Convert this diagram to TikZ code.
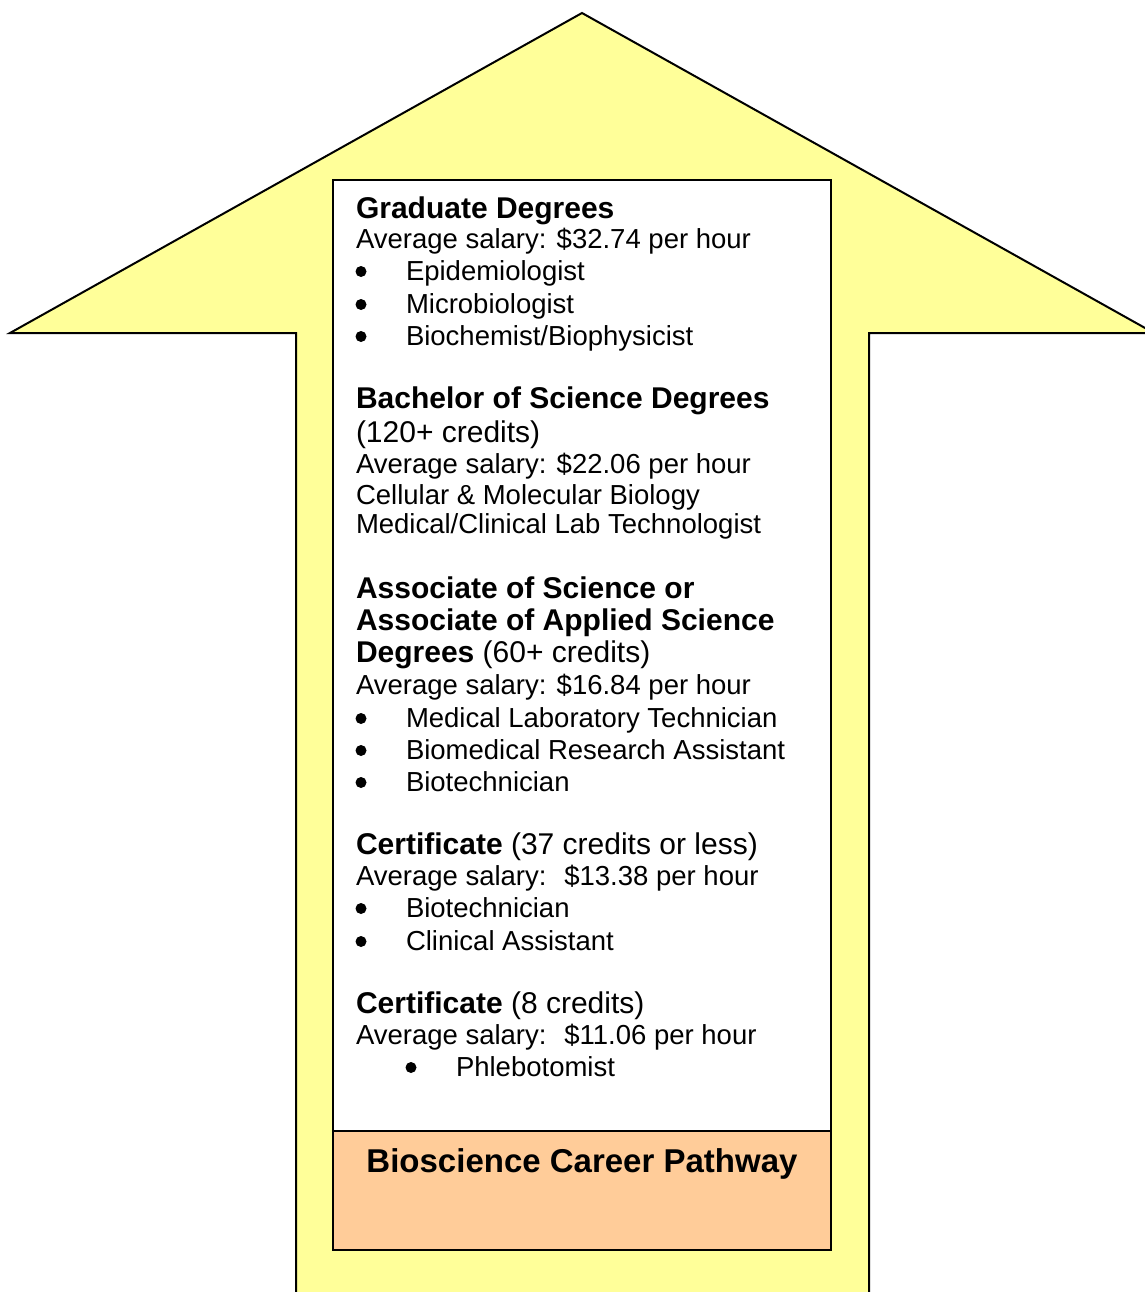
\documentclass[tikz,border=0pt]{standalone}
\usepackage{fontspec}
\setmainfont{Liberation Sans}
\usepackage{tikz}

\definecolor{arrowyellow}{HTML}{FFFF99}
\definecolor{pathorange}{HTML}{FFCC99}

\begin{document}
\begin{tikzpicture}[x=0.4pt,y=-0.4pt,line width=0.8pt,
  head/.style={font=\fontsize{12}{13.8}\selectfont\bfseries,anchor=base west,inner sep=0pt},
  sub/.style={font=\fontsize{12}{13.8}\selectfont,anchor=base west,inner sep=0pt},
  body/.style={font=\fontsize{11}{12.65}\selectfont,anchor=base west,inner sep=0pt},
  bulletmark/.style={circle,fill=black,draw=none,inner sep=0pt,minimum size=4.4pt,yshift=3.4pt}]

%Text columns
\def\tx{355}     %left edge of the text.
\def\bx{361}     %bullet centres.
\def\ix{405}     %indented item column.

% Define coordinates of the big arrow
\coordinate (tip)    at (582,13);
\coordinate (lwing)  at (10,333);
\coordinate (lshaft) at (296,333);
\coordinate (lfoot)  at (296,1310);
\coordinate (rfoot)  at (869,1310);
\coordinate (rshaft) at (869,333);
\coordinate (rwing)  at (1154,333);

\useasboundingbox (0,0) rectangle (1145,1292);

% ARROW
\begin{scope}
\clip (0,0) rectangle (1145,1292);
\draw[fill=arrowyellow] (tip) -- (rwing) -- (rshaft) -- (rfoot) -- (lfoot) -- (lshaft) -- (lwing) -- cycle;
\end{scope}

% Boxes inside the shaft
\draw[fill=white] (333,180) rectangle (831,1131);
\draw[fill=pathorange] (333,1131) rectangle (831,1250);
\node (title) [anchor=base,inner sep=0pt,font=\fontsize{13.2}{15}\selectfont\bfseries] at (582,1172) {Bioscience Career Pathway};

%Graduate degrees
\node (grad) [head] at (\tx,218) {Graduate Degrees};
\node (gradpay) [body] at (\tx,248) {Average salary: \$32.74 per hour};
\node (gradb1) [bulletmark] at (\bx,280) {};
\node (gradj1) [body] at (\ix,280) {Epidemiologist};
\node (gradb2) [bulletmark] at (\bx,313) {};
\node (gradj2) [body] at (\ix,313) {Microbiologist};
\node (gradb3) [bulletmark] at (\bx,345) {};
\node (gradj3) [body] at (\ix,345) {Biochemist/Biophysicist};

%Bachelor degrees
\node (bach) [head] at (\tx,408) {Bachelor of Science Degrees};
\node (bachcred) [sub] at (\tx,442) {(120+ credits)};
\node (bachpay) [body] at (\tx,473) {Average salary: \$22.06 per hour};
\node (bachj1) [body] at (\tx,504) {Cellular \& Molecular Biology};
\node (bachj2) [body] at (\tx,533) {Medical/Clinical Lab Technologist};

%Associate degrees
\node (assoc1) [head] at (\tx,598) {Associate of Science or};
\node (assoc2) [head] at (\tx,630) {Associate of Applied Science};
\node (assoc3) [sub] at (\tx,662) {\textbf{Degrees} (60+ credits)};
\node (assocpay) [body] at (\tx,694) {Average salary: \$16.84 per hour};
\node (assocb1) [bulletmark] at (\bx,727) {};
\node (assocj1) [body] at (\ix,727) {Medical Laboratory Technician};
\node (assocb2) [bulletmark] at (\bx,759) {};
\node (assocj2) [body] at (\ix,759) {Biomedical Research Assistant};
\node (assocb3) [bulletmark] at (\bx,791) {};
\node (assocj3) [body] at (\ix,791) {Biotechnician};

%Certificate, 37 credits
\node (cert) [sub] at (\tx,854) {\textbf{Certificate} (37 credits or less)};
\node (certpay) [body] at (\tx,885) {Average salary:~ \$13.38 per hour};
\node (certb1) [bulletmark] at (\bx,917) {};
\node (certj1) [body] at (\ix,917) {Biotechnician};
\node (certb2) [bulletmark] at (\bx,950) {};
\node (certj2) [body] at (\ix,950) {Clinical Assistant};

%Certificate, 8 credits
\node (short) [sub] at (\tx,1013) {\textbf{Certificate} (8 credits)};
\node (shortpay) [body] at (\tx,1044) {Average salary:~ \$11.06 per hour};
\node (shortb1) [bulletmark] at (411,1076) {};
\node (shortj1) [body] at (455,1076) {Phlebotomist};

\end{tikzpicture}
\end{document}
